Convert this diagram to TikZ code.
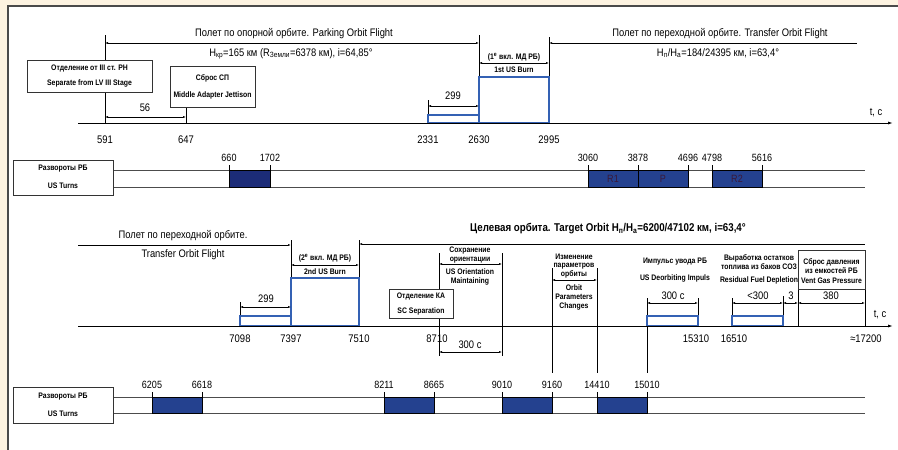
\documentclass[tikz,border=0pt]{standalone}
\usepackage{fontspec}
\setmainfont{Liberation Sans}[FakeStretch=0.86]
\usetikzlibrary{arrows.meta}
\definecolor{bg}{HTML}{FDF3E1}
\definecolor{frame}{HTML}{4A4A4A}
\definecolor{bline}{HTML}{3461B4}
\definecolor{navy}{HTML}{24418F}
\definecolor{navyd}{HTML}{1C2C78}
\definecolor{blktxt}{HTML}{3A1838}
\begin{document}
\begin{tikzpicture}[x=1pt,y=-1pt,
  txt/.style={inner sep=0pt, font=\fontsize{10.9}{12}\selectfont},
  num/.style={inner sep=0pt, font=\fontsize{11}{12}\selectfont},
  tnum/.style={inner sep=0pt, font=\fontsize{10.5}{12}\selectfont},
  sm/.style={inner sep=0pt, font=\bfseries\fontsize{8}{9}\selectfont},
  dim/.style={{Latex[length=3pt,width=2pt]}-{Latex[length=3pt,width=2pt]}, line width=0.5pt},
  thinl/.style={line width=0.6pt},
  axis/.style={line width=0.9pt,-{Latex[length=5pt,width=3pt]}},
  bar/.style={draw=bline, line width=1.1pt},
  blk/.style={fill=navy, draw=black, line width=0.5pt},
  trk/.style={draw=black!70, line width=0.7pt},
  lbox/.style={draw=black!80, line width=0.6pt, fill=white, inner sep=0pt},
]
\useasboundingbox (0,0) rectangle (898,450);
\fill[bg] (0,0) rectangle (898,450);
\fill[white] (8,6) rectangle (898,450);
\draw[frame, line width=1.2pt] (8,450) -- (8,6) -- (898,6);

% ================= TOP SECTION =================
\draw[thinl] (105,35) -- (105,123);
\draw[thinl] (186,107) -- (186,123);
\draw[thinl] (428,100) -- (428,123);
\draw[thinl] (479,35) -- (479,123);
\draw[thinl] (549,37) -- (549,123);
\draw[bar] (428,115) rectangle (479,123);
\draw[bar] (479,77) rectangle (549,123);
\coordinate (ax1s) at (78,123);
\coordinate (ax1e) at (893,123);
\draw[axis] (ax1s) -- (ax1e);
\node[txt] (tc1) at (876,113) {t, c};
\node[num] (n591) at (105,140) {591};
\node[num] (n647) at (186,140) {647};
\node[num] (n2331) at (428,140) {2331};
\node[num] (n2630) at (479,140) {2630};
\node[num] (n2995) at (549,140) {2995};
\draw[dim] (105,43) -- (479,43);
\node[txt] (park) at (294,34) {Полет по опорной орбите. Parking Orbit Flight};
\node[txt] (parkp) at (291,54) {H\textsubscript{кр}=165 км (R\textsubscript{Земли}=6378 км), i=64,85°};
\node[lbox, minimum width=125pt, minimum height=32pt] (sepbox) at (89.5,76) {};
\node[sm] (sep1) at (89.5,69) {Отделение от III ст. РН};
\node[sm] (sep2) at (89.5,83) {Separate from LV III Stage};
\node[lbox, minimum width=85pt, minimum height=41pt] (adbox) at (212.5,86.5) {};
\node[sm] (ad1) at (212.5,78) {Сброс СП};
\node[sm] (ad2) at (212.5,95) {Middle Adapter Jettison};
\draw[dim] (105,117) -- (186,117);
\node[txt] (d56) at (145,108) {56};
\draw[dim] (428,106) -- (479,106);
\node[txt] (d299a) at (453,96) {299};
\node[sm] (b1a) at (514,57) {(1\textsuperscript{е} вкл. МД РБ)};
\draw[dim] (479,63) -- (549,63);
\node[sm] (b1b) at (514,70) {1st US Burn};
\draw[thinl, {Latex[length=3pt,width=2pt]}-] (549,43) -- (857,43);
\node[txt] (trans) at (720,34) {Полет по переходной орбите. Transfer Orbit Flight};
\node[txt] (transp) at (718,53) {H\textsubscript{п}/H\textsubscript{а}=184/24395 км, i=63,4°};

% ================= TRACK 1 =================
\draw[trk] (113,170) -- (865,170);
\draw[trk] (113,187) -- (865,187);
\node[lbox, minimum width=100pt, minimum height=35pt] (turns1) at (63,177.5) {};
\node[sm] (turns1a) at (63,169) {Развороты РБ};
\node[sm] (turns1b) at (63,186) {US Turns};
\draw[blk, fill=navyd] (229,170) rectangle (270,187);
\draw[blk] (588,170) rectangle (638,187);
\draw[blk] (638,170) rectangle (688,187);
\draw[blk] (712,170) rectangle (762,187);
\foreach \x in {229,270,588,638,688,712,762} \draw[thinl] (\x,165) -- (\x,170);
\node[inner sep=0pt, text=blktxt, font=\fontsize{10.5}{12}\selectfont] (R1) at (613,179) {R1};
\node[inner sep=0pt, text=blktxt, font=\fontsize{10.5}{12}\selectfont] (P) at (663,179) {P};
\node[inner sep=0pt, text=blktxt, font=\fontsize{10.5}{12}\selectfont] (R2) at (737,179) {R2};
\node[tnum] (t660) at (229,158) {660};
\node[tnum] (t1702) at (270,158) {1702};
\node[tnum] (t3060) at (588,158) {3060};
\node[tnum] (t3878) at (638,158) {3878};
\node[tnum] (t4696) at (688,158) {4696};
\node[tnum] (t4798) at (712,158) {4798};
\node[tnum] (t5616) at (762,158) {5616};

% ================= BOTTOM SECTION =================
\draw[thinl] (240,302) -- (240,326);
\draw[thinl] (291,240) -- (291,326);
\draw[thinl] (359,240) -- (359,326);
\draw[thinl] (439,253) -- (439,356);
\draw[thinl] (502,253) -- (502,356);
\draw[thinl] (552,268) -- (552,373);
\draw[thinl] (597,268) -- (597,373);
\draw[thinl] (647,298) -- (647,373);
\draw[thinl] (698,298) -- (698,326);
\draw[thinl] (732,298) -- (732,326);
\draw[thinl] (783,296) -- (783,326);
\draw[thinl] (798,289) -- (798,326);
\draw[thinl] (865,289) -- (865,326);
\draw[bar] (240,316) rectangle (291,326);
\draw[bar] (291,278) rectangle (359,326);
\draw[bar] (647,316) rectangle (698,326);
\draw[bar] (732,316) rectangle (783,326);
\coordinate (ax2s) at (78,326);
\coordinate (ax2e) at (893,326);
\draw[axis] (ax2s) -- (ax2e);
\node[txt] (tc2) at (880,315) {t, c};
\node[num] (n7098) at (240,339) {7098};
\node[num] (n7397) at (291,339) {7397};
\node[num] (n7510) at (359,339) {7510};
\node[num] (n8710) at (437,339) {8710};
\node[num] (n15310) at (696,339) {15310};
\node[num] (n16510) at (734,339) {16510};
\node[num] (n17200) at (866,339) {≈17200};
\draw[thinl, -{Latex[length=3pt,width=2pt]}] (78,245) -- (291,245);
\node[txt] (trans2a) at (183,236) {Полет по переходной орбите.};
\node[txt] (trans2b) at (183,255) {Transfer Orbit Flight};
\draw[dim] (240,307) -- (291,307);
\node[txt] (d299b) at (266,299) {299};
\node[sm] (b2a) at (325,258) {(2\textsuperscript{е} вкл. МД РБ)};
\draw[dim] (291,265) -- (359,265);
\node[sm] (b2b) at (325,272) {2nd US Burn};
\node[inner sep=0pt, font=\bfseries\fontsize{11.3}{12}\selectfont] (target) at (608,229) {Целевая орбита. Target Orbit H\textsubscript{п}/H\textsubscript{а}=6200/47102 км, i=63,4°};
\draw[thinl, {Latex[length=3pt,width=2pt]}-] (359,244) -- (865,244);
\node[lbox, minimum width=64pt, minimum height=29pt] (scbox) at (421,303.5) {};
\node[sm] (sc1) at (421,297) {Отделение КА};
\node[sm] (sc2) at (421,311) {SC Separation};
\node[sm] (or1) at (470,251) {Сохранение};
\node[sm] (or2) at (470,260) {ориентации};
\draw[dim] (439,264) -- (502,264);
\node[sm] (or3) at (470,272) {US Orientation};
\node[sm] (or4) at (470,281) {Maintaining};
\draw[dim] (439,352) -- (502,352);
\node[txt] (d300a) at (470,345) {300 с};
\node[sm] (op1) at (574,257) {Изменение};
\node[sm] (op2) at (574,266) {параметров};
\node[sm] (op3) at (574,274) {орбиты};
\draw[dim] (552,280) -- (597,280);
\node[sm] (op4) at (574,288) {Orbit};
\node[sm] (op5) at (574,297) {Parameters};
\node[sm] (op6) at (574,306) {Changes};
\node[sm] (de1) at (675,262) {Импульс увода РБ};
\node[sm] (de2) at (675,278) {US Deorbiting Impuls};
\draw[dim] (647,303) -- (698,303);
\node[txt] (d300b) at (673,296) {300 с};
\node[sm] (rf1) at (759,258) {Выработка остатков};
\node[sm] (rf2) at (759,267) {топлива из баков СОЗ};
\node[sm] (rf3) at (759,280) {Residual Fuel Depletion};
\draw[dim] (732,303) -- (783,303);
\node[txt] (d300c) at (758,296) {<300};
\draw[dim] (783,303) -- (798,303);
\node[txt] (d3) at (791,296) {3};
\node[lbox, minimum width=67pt, minimum height=39pt] (ventbox) at (831.5,269.5) {};
\node[sm] (vg1) at (831.5,262) {Сброс давления};
\node[sm] (vg2) at (831.5,271) {из емкостей РБ};
\node[sm] (vg3) at (831.5,281) {Vent Gas Pressure};
\draw[dim] (798,303) -- (865,303);
\node[txt] (d380) at (831,296) {380};

% ================= TRACK 2 =================
\draw[trk] (113,397) -- (865,397);
\draw[trk] (113,413) -- (865,413);
\node[lbox, minimum width=100pt, minimum height=36pt] (turns2) at (63,405) {};
\node[sm] (turns2a) at (63,397) {Развороты РБ};
\node[sm] (turns2b) at (63,414) {US Turns};
\draw[blk] (152,397) rectangle (202,413);
\draw[blk] (384,397) rectangle (434,413);
\draw[blk] (502,397) rectangle (552,413);
\draw[blk] (597,397) rectangle (647,413);
\foreach \x in {152,202,384,434,502,552,597,647} \draw[thinl] (\x,392) -- (\x,397);
\node[tnum] (t6205) at (152,385) {6205};
\node[tnum] (t6618) at (202,385) {6618};
\node[tnum] (t8211) at (384,385) {8211};
\node[tnum] (t8665) at (434,385) {8665};
\node[tnum] (t9010) at (502,385) {9010};
\node[tnum] (t9160) at (552,385) {9160};
\node[tnum] (t14410) at (597,385) {14410};
\node[tnum] (t15010) at (647,385) {15010};
\end{tikzpicture}
\end{document}
